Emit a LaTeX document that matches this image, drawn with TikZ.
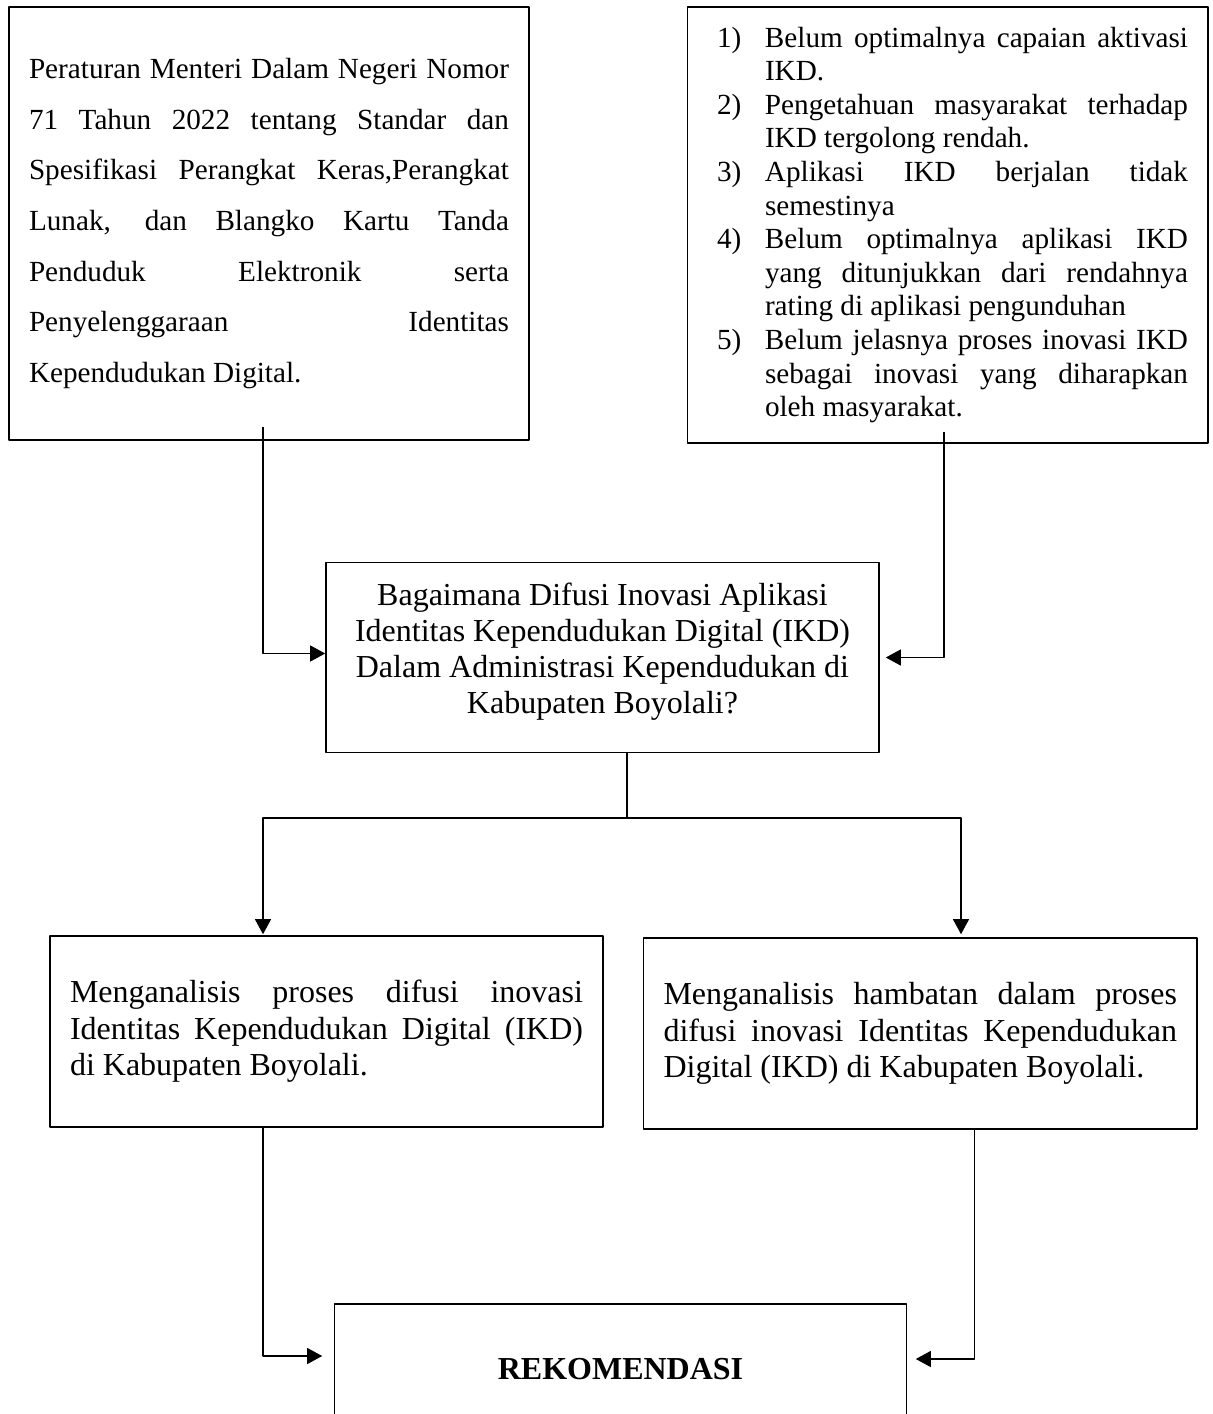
\documentclass[tikz,border=0pt]{standalone}
\usepackage{fontspec}
\setmainfont{Liberation Serif}
\usetikzlibrary{arrows.meta}
\setlength{\parindent}{0pt}
\setlength{\parskip}{0pt}
\begin{document}
\begin{tikzpicture}[x=0.5pt,y=-0.5pt,>={Triangle[length=7.5pt,width=8pt]},line join=round,
		kotak/.style={draw,line width=0.8pt,inner xsep=10pt,inner ysep=0pt},
		garis/.style={line width=0.6pt},
		butir/.style={font=\fontsize{14.6}{16.8}\selectfont}]
	\useasboundingbox (0,0) rectangle (1213,1414);
	% kotak atas
	\node[kotak,minimum width=260pt,minimum height=216.5pt,text width=240pt,align=justify,font=\fontsize{14.6}{25.35}\selectfont] (regulasi) at (269,223.5)
		{Peraturan Menteri Dalam Negeri Nomor\linebreak 71 Tahun 2022 tentang Standar dan\linebreak Spesifikasi Perangkat Keras,Perangkat\linebreak Lunak, dan Blangko Kartu Tanda\linebreak Penduduk Elektronik serta\linebreak Penyelenggaraan Identitas\linebreak Kependudukan Digital.};
	\node[kotak,butir,minimum width=260.25pt,minimum height=218pt,text width=240.25pt,align=justify] (masalah) at (947.75,225)
		{\leftskip=4.75pt
		\hangindent=24pt\hangafter=1\makebox[24pt][l]{1)}Belum optimalnya capaian aktivasi\linebreak IKD.\par
		\hangindent=24pt\hangafter=1\makebox[24pt][l]{2)}Pengetahuan masyarakat terhadap\linebreak IKD tergolong rendah.\par
		\hangindent=24pt\hangafter=1\makebox[24pt][l]{3)}Aplikasi IKD berjalan tidak\linebreak semestinya\par
		\hangindent=24pt\hangafter=1\makebox[24pt][l]{4)}Belum optimalnya aplikasi IKD\linebreak yang ditunjukkan dari rendahnya\linebreak rating di aplikasi pengunduhan\par
		\hangindent=24pt\hangafter=1\makebox[24pt][l]{5)}Belum jelasnya proses inovasi IKD\linebreak sebagai inovasi yang diharapkan\linebreak oleh masyarakat.\par};
	% rumusan masalah
	\node[kotak,minimum width=276.5pt,minimum height=95pt,align=center,font=\fontsize{16}{18}\selectfont] (rumusan) at (602.5,657.5)
		{Bagaimana Difusi Inovasi Aplikasi\\Identitas Kependudukan Digital (IKD)\\Dalam Administrasi Kependudukan di\\Kabupaten Boyolali?\\[-8.5pt]\mbox{}};
	% tujuan
	\node[kotak,minimum width=276.5pt,minimum height=95.5pt,text width=256.5pt,align=justify,font=\fontsize{16}{18.25}\selectfont] (tujuanA) at (326.5,1031.5)
		{\rightskip=7.5pt Menganalisis proses difusi inovasi\linebreak Identitas Kependudukan Digital (IKD)\linebreak di Kabupaten Boyolali.};
	\node[kotak,minimum width=276.75pt,minimum height=95.5pt,text width=256.75pt,align=justify,font=\fontsize{16}{18.25}\selectfont] (tujuanB) at (920.25,1033.5)
		{\rightskip=8.5pt Menganalisis hambatan dalam proses\linebreak difusi inovasi Identitas Kependudukan\linebreak Digital (IKD) di Kabupaten Boyolali.};
	\node[kotak,minimum width=286pt,minimum height=65pt,font=\fontsize{16}{18}\selectfont\bfseries] (rekomendasi) at (620.5,1369) {REKOMENDASI};
	% garis penghubung
	\coordinate (kiri) at (263,427);
	\coordinate (kanan) at (944,432);
	\coordinate (cabang) at (627,818);
	\coordinate (cabangB) at (961,818);
	\coordinate (turunB) at (974.5,1359);
	\draw[garis,->] (kiri) |- ([yshift=2pt]rumusan.west);
	\draw[garis,->] (kanan) |- ([xshift=3pt]rumusan.east);
	\draw[garis] (rumusan.south -| cabang) -- (cabang);
	\draw[garis,->] (cabang) -| ([yshift=0.5pt]tujuanA.north -| kiri);
	\draw[garis,->] (cabang) -| ([yshift=1.5pt]tujuanB.north -| cabangB);
	\draw[garis,->] (tujuanA.south -| kiri) |- ([shift={(-5.75pt,6.5pt)}]rekomendasi.west);
	\draw[garis,->] (tujuanB.south -| turunB) |- ([shift={(4.25pt,5pt)}]rekomendasi.east);
\end{tikzpicture}
\end{document}
